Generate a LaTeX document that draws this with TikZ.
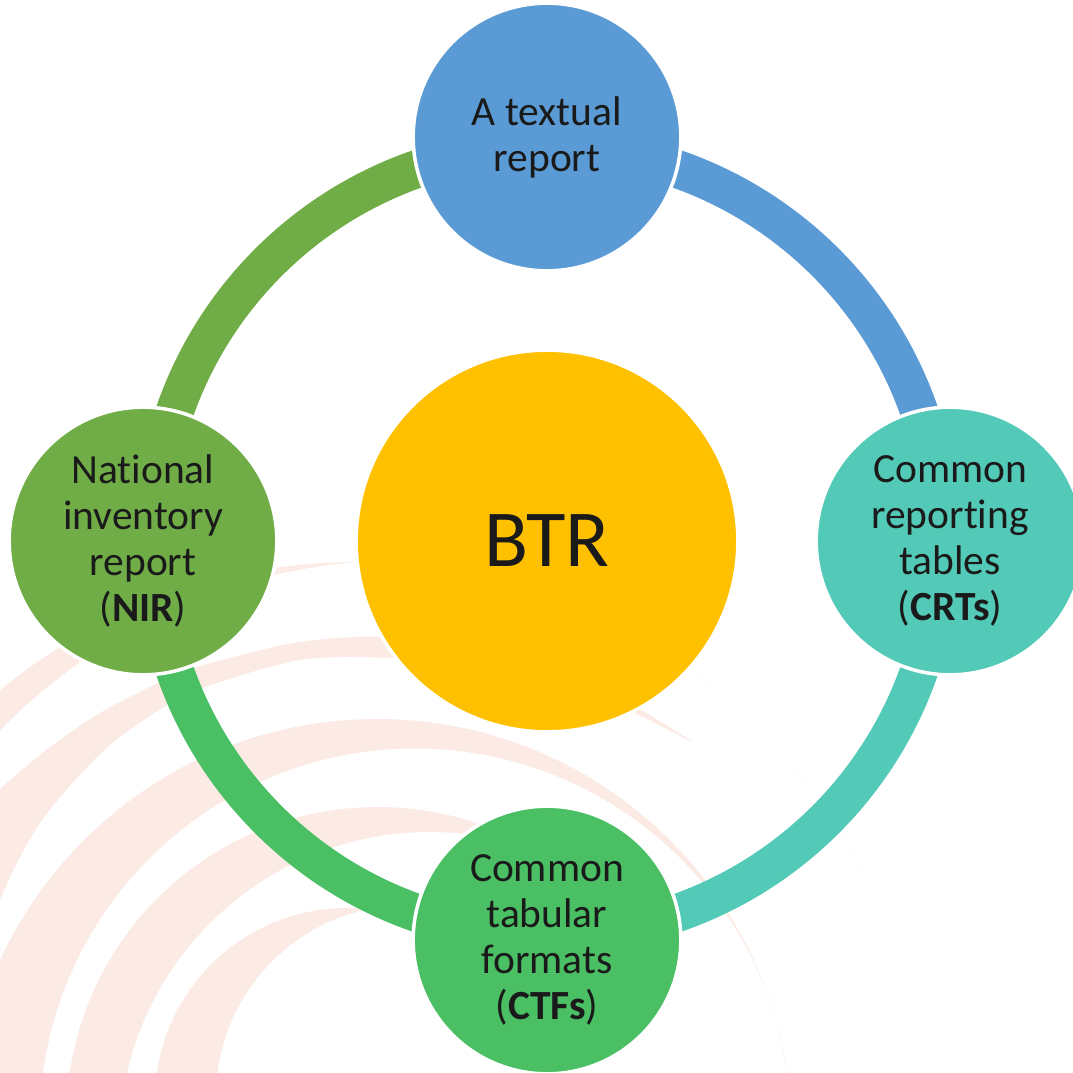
\documentclass[tikz,border=0pt]{standalone}
\usepackage{fontspec}
\setmainfont{Carlito}[Ligatures=NoCommon]
\usepackage{color}
\definecolor{rptblue}{HTML}{5B9BD5}
\definecolor{rptteal}{HTML}{53C9B7}
\definecolor{rptgreen}{HTML}{4ABF64}
\definecolor{rptolive}{HTML}{70AD47}
\definecolor{btrgold}{HTML}{FFC000}
\definecolor{swoosh}{HTML}{FBEBE4}
\definecolor{ink}{HTML}{1A1A1A}

\begin{document}
\begin{tikzpicture}[x=0.01cm,y=0.01cm]\tikzstyle{every node}+=[inner sep=0pt,text=ink]
	\tikzstyle{bubble}=[circle,draw=white,line width=1pt,minimum size=2.675cm,align=center,font=\fontsize{11.8}{13.1}\selectfont]
	\tikzstyle{ring}=[line width=0.38cm]
	\useasboundingbox (0,0) rectangle (1073,-1073);
	\begin{scope}
	  \clip (0,0) rectangle (1073,-1073);
	  \begin{scope}
	    \clip (358,-1126) circle (564);
	    \fill [swoosh,even odd rule] (358,-1126) circle (564) (404,-1124) circle (564);
	  \end{scope}
	  \fill [swoosh] plot [smooth] coordinates {(-20,-812) (0,-789) (50,-747) (100,-713) (150,-687) (197,-667) (300,-642) (395,-637) (500,-652) (600,-687) (690,-740)}
	    -- plot [smooth] coordinates {(690,-741) (600,-697) (500,-667) (395,-658) (300,-660) (197,-690) (150,-716) (100,-754) (40,-823) (0,-900) (-20,-974)} -- cycle;
	  \begin{scope}
	    \clip (377,-1134) circle (415);
	    \fill [swoosh,even odd rule] (377,-1134) circle (415) (415,-1124) circle (375.5);
	  \end{scope}
	  \begin{scope}
	    \clip (377.5,-1118) circle (311);
	    \fill [swoosh,even odd rule] (377.5,-1118) circle (311) (430,-1143) circle (311);
	  \end{scope}
	  \begin{scope}
	    \clip (347,-1100) circle (192);
	    \fill [swoosh,even odd rule] (347,-1100) circle (192) (408,-1097) circle (192);
	  \end{scope}
	\end{scope}
	\node [bubble,fill=btrgold,minimum size=3.815cm,font=\fontsize{23}{27}\selectfont] (btr) at (547,-541) {BTR};
	\draw [ring,rptblue] (btr.center) ++(90:394) arc (90:0:394);
	\draw [ring,rptteal] (btr.center) ++(0:394) arc (0:-90:394);
	\draw [ring,rptgreen] (btr.center) ++(-90:394) arc (-90:-180:394);
	\draw [ring,rptolive] (btr.center) ++(180:394) arc (180:90:394);
	\node [bubble,fill=rptblue] (textual) at (547,-137) {A textual\\report};
	\node [bubble,fill=rptteal] (crt) at (950,-541) {Common\\reporting\\tables\\(\textbf{CRTs})};
	\node [bubble,fill=rptgreen] (ctf) at (547,-940) {Common\\tabular\\formats\\(\textbf{CTFs})};
	\node [bubble,fill=rptolive] (nir) at (143,-541) {National\\inventory\\report\\(\textbf{NIR})};
\end{tikzpicture}
\end{document}
